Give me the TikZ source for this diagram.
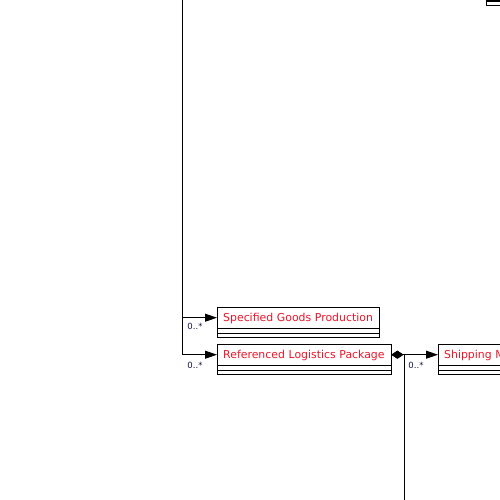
\documentclass[tikz,border=0pt]{standalone}
\usepackage{fontspec}
\setmainfont{DejaVu Sans}
\usetikzlibrary{positioning,arrows.meta}
\definecolor{umlred}{RGB}{235,20,40}
\definecolor{multblue}{RGB}{20,20,70}

\begin{document}
\begin{tikzpicture}[
  x=1pt, y=1pt,
  classhdr/.style={draw, rectangle, anchor=north west, minimum height=21pt, inner xsep=6pt, inner ysep=0pt, text height=10.4pt, text depth=2.4pt, align=left, text=umlred, font=\fontsize{10.9}{12}\selectfont},
  assoc/.style={-{Triangle[length=12pt,width=8pt]}, line width=0.9pt},
  comp/.style={{Diamond[length=12pt,width=8pt]}-{Triangle[length=12pt,width=8pt]}, line width=0.9pt},
  compdown/.style={{Diamond[length=12pt,width=8pt]}-, line width=0.9pt},
  mult/.style={font=\fontsize{8.5}{9}\selectfont, text=multblue, inner sep=0pt}
]
\useasboundingbox (0,0) rectangle (500,-500);
\clip (0,0) rectangle (500,-500);

% classes
\node[classhdr, text width=150pt] (goods) at (217,-307) {Specified Goods Production};
\draw[line width=0.9pt] (goods.south west) rectangle ++(162,-5) rectangle ++(-162,-4);
\node[classhdr, text width=162pt] (logpkg) at (217,-344) {Referenced Logistics Package};
\draw[line width=0.9pt] (logpkg.south west) rectangle ++(174,-5) rectangle ++(-174,-4);
\node[classhdr, text width=98pt] (shipping) at (438,-344) {Shipping Marks};
\draw[line width=0.9pt] (shipping.south west) rectangle ++(110,-5) rectangle ++(-110,-4);
\node[draw, line width=0.9pt, anchor=south west, minimum width=40pt, minimum height=20pt] (upper) at (486,-1) {};
\draw[line width=0.9pt] (upper.south west) rectangle ++(40,-4);

% connectors
\coordinate (top) at (182,0);
\coordinate (down) at (404,-500);
\draw[assoc] (top) |- (goods);
\draw[assoc] (top) |- (logpkg);
\draw[comp] (logpkg) -- (shipping);
\draw[compdown] (logpkg.east) -| (down);

% multiplicities
\node[mult] (m1) at (195,-326) {0..*};
\node[mult] (m2) at (195,-365) {0..*};
\node[mult] (m3) at (416,-365) {0..*};
\end{tikzpicture}
\end{document}
